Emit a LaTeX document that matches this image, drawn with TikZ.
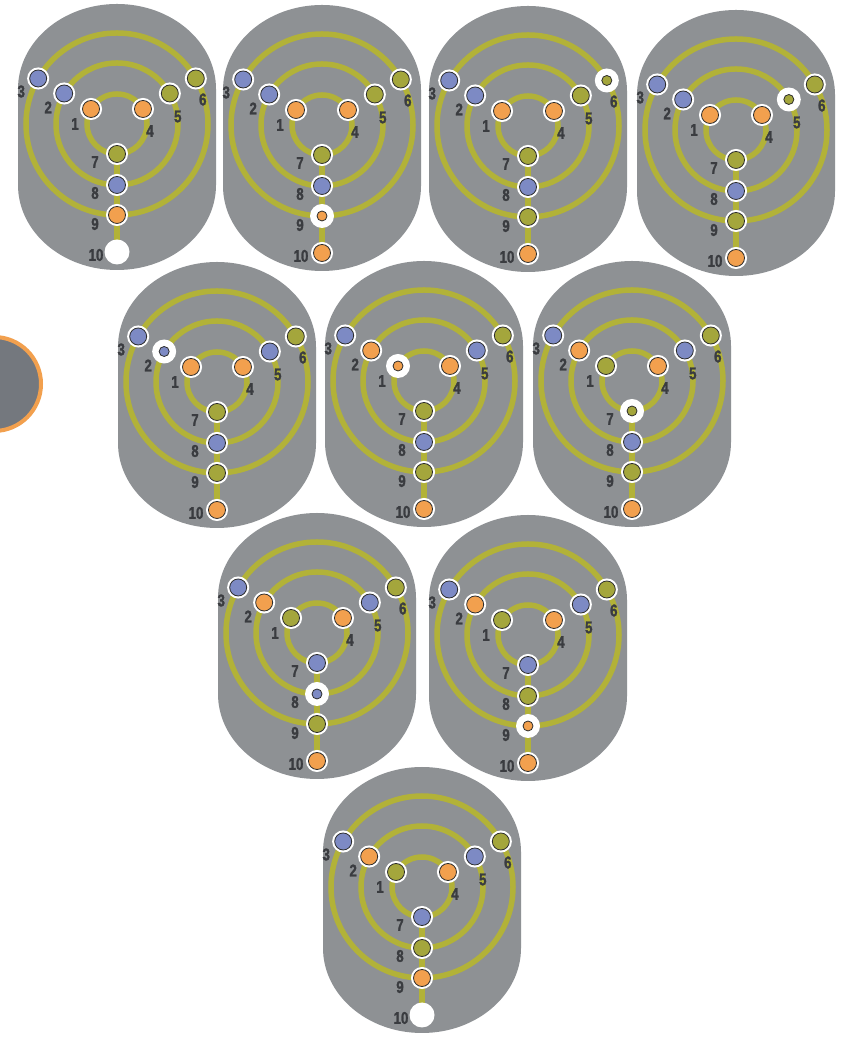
\documentclass[tikz,border=0pt]{standalone}
\usepackage{fontspec}
\newfontfamily\cifre[FakeStretch=0.78, BoldFeatures={FakeBold=1.5}]{Liberation Sans}
\usepackage{xcolor}

\definecolor{grigio}{RGB}{142,145,148}
\definecolor{grigioscuro}{RGB}{116,120,126}
\definecolor{giallo}{RGB}{178,178,56}
\definecolor{oliva}{RGB}{164,166,60}
\definecolor{arancio}{RGB}{242,160,78}
\definecolor{blu}{RGB}{125,138,196}
\definecolor{bordo}{RGB}{45,45,45}
\definecolor{testo}{RGB}{58,60,64}

\tikzset{
  tavola/.style={fill=grigio},
  anello/.style={draw=giallo, line width=5.5},
  pezzo/.style={circle, inner sep=0, minimum size=17, draw=bordo, line width=0.8, preaction={draw=white, line width=5}},
  pezzo o/.style={pezzo, fill=arancio},
  pezzo b/.style={pezzo, fill=blu},
  pezzo g/.style={pezzo, fill=oliva},
  mossa/.style={circle, inner sep=0, minimum size=24, fill=white,
    path picture={\draw[bordo, line width=0.8, fill=#1] (path picture bounding box.center) circle[radius=5];}},
  pezzo mo/.style={mossa=arancio},
  pezzo mb/.style={mossa=blu},
  pezzo mg/.style={mossa=oliva},
  pezzo e/.style={circle, inner sep=0, minimum size=25, fill=white},
  numero/.style={font=\cifre\bfseries\fontsize{17}{17}\selectfont, text=testo, inner sep=0}
}

% una tavola: x, y, pezzi 1..10, nome
\newcommand{\solitario}[4]{%
  \begin{scope}[shift={(#1,#2)}]
    \fill[tavola] (-99,-61) -- (-99,35) arc[start angle=180, end angle=0, x radius=99, y radius=85]
      -- (99,-61) arc[start angle=0, end angle=-180, x radius=99, y radius=85] -- cycle;
    \coordinate (#4-c) at (0,0);
    \draw[anello] (#4-c) circle[radius=30] (#4-c) circle[radius=61] (#4-c) circle[radius=91];
    \foreach \n/\a/\r in {1/150/30, 2/150/61, 3/150/91, 4/30/30, 5/30/61, 6/30/91, 7/270/30, 8/270/61, 9/270/91, 10/270/128}
      \coordinate (#4-p\n) at (\a:\r);
    \draw[anello] (#4-p7) -- (#4-p10);
    \foreach \s [count=\n] in {#3}
      \node[pezzo \s] (#4-\n) at (#4-p\n) {};
    % numeri
    \foreach \n/\dx/\dy in {1/-16/-15, 2/-16/-14, 3/-17/-13, 4/7/-22, 5/8/-23, 6/7/-21, 7/-22/-8, 8/-22/-8, 9/-22/-9, 10/-21/-3}
      \node[numero, xshift=\dx, yshift=\dy] (#4-l\n) at (#4-p\n) {\n};
  \end{scope}}

\begin{document}
\begin{tikzpicture}[x=1pt, y=1pt]
  \useasboundingbox (0,0) rectangle (844,1040);
  \fill[white] (0,0) rectangle (844,1040);
  \clip (0,0) rectangle (844,1040);

  % cerchio a sinistra
  \node[circle, draw=arancio, line width=4, fill=grigioscuro, minimum size=94] (segno) at (-6,656) {};

  % prima fila
  \solitario{117}{916}{o,b,b,o,g,g,g,b,o,e}{t1}
  \solitario{322}{915}{o,b,b,o,g,g,g,b,mo,o}{t2}
  \solitario{528}{914}{o,b,b,o,g,mg,g,b,g,o}{t3}
  \solitario{736}{910}{o,b,b,o,mg,g,g,b,g,o}{t4}

  % seconda fila
  \solitario{217}{658}{o,mb,b,o,b,g,g,b,g,o}{t5}
  \solitario{424}{659}{mo,o,b,o,b,g,g,b,g,o}{t6}
  \solitario{632}{659}{g,o,b,o,b,g,mg,b,g,o}{t7}

  % terza fila
  \solitario{317}{407}{g,o,b,o,b,g,b,mb,g,o}{t8}
  \solitario{528}{405}{g,o,b,o,b,g,b,g,mo,o}{t9}

  % ultima
  \solitario{422}{153}{g,o,b,o,b,g,b,g,o,e}{t10}
\end{tikzpicture}
\end{document}
